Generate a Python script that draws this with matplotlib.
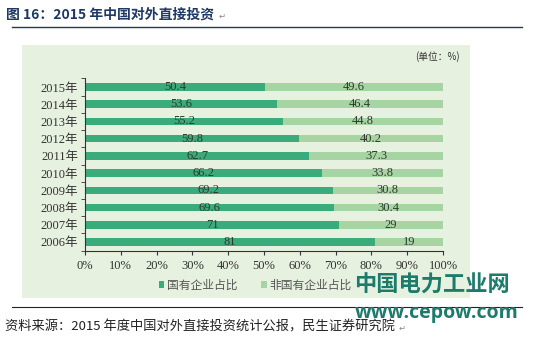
import matplotlib.pyplot as plt
from matplotlib.patches import Rectangle
from matplotlib.lines import Line2D

years = ["2006年", "2007年", "2008年", "2009年", "2010年",
         "2011年", "2012年", "2013年", "2014年", "2015年"]
state_share = [81, 71, 69.6, 69.2, 66.2, 62.7, 59.8, 55.2, 53.6, 50.4]
nonstate_share = [19, 29, 30.4, 30.8, 33.8, 37.3, 40.2, 44.8, 46.4, 49.6]
state_labels = ["81", "71", "69.6", "69.2", "66.2", "62.7", "59.8", "55.2", "53.6", "50.4"]
nonstate_labels = ["19", "29", "30.4", "30.8", "33.8", "37.3", "40.2", "44.8", "46.4", "49.6"]
xticks = [0, 10, 20, 30, 40, 50, 60, 70, 80, 90, 100]

serif = ["Liberation Serif", "Noto Sans CJK SC", "DejaVu Sans"]
sans = ["Noto Sans CJK SC", "DejaVu Sans"]

dark_green = "#3aab7b"
light_green = "#a6d4a2"

fig = plt.figure(figsize=(5.33, 3.42), dpi=100)

# panel background
fig.patches.append(Rectangle((22 / 533, 1 - 298 / 342), 448 / 533, 253 / 342,
                             transform=fig.transFigure, facecolor="#e7f1e0",
                             edgecolor="none", zorder=-5))

# header / footer rules
fig.add_artist(Line2D([12 / 533, 522 / 533], [1 - 27 / 342] * 2, color="#1f3864", lw=1))
fig.add_artist(Line2D([12 / 533, 522 / 533], [1 - 307 / 342] * 2, color="#222222", lw=0.8))

fig.text(6 / 533, 1 - 15 / 342, "图 16：2015 年中国对外直接投资", family=sans,
         fontsize=10, fontweight="bold", color="#1f3864", va="center")
fig.text(219 / 533, 1 - 16 / 342, "↵", family=["DejaVu Sans"], fontsize=6,
         color="#888888", va="center")

ax = fig.add_axes([85 / 533, 1 - 250.6 / 342, 358 / 533, 172.2 / 342])
ax.set_facecolor("none")
ax.set_zorder(2)

y = list(range(len(years)))
ax.barh(y, state_share, height=0.44, color=dark_green, label="国有企业占比")
ax.barh(y, nonstate_share, left=state_share, height=0.44, color=light_green,
        label="非国有企业占比")

for i in y:
    ax.text(state_share[i] / 2, i, state_labels[i], ha="center", va="center",
            fontsize=9, family=serif, color="#2f3a2f")
    ax.text(state_share[i] + nonstate_share[i] / 2, i, nonstate_labels[i],
            ha="center", va="center", fontsize=9, family=serif, color="#2f3a2f")

ax.set_xlim(0, 100)
ax.set_ylim(-0.5, 9.5)
ax.set_xticks(xticks)
ax.set_xticklabels([f"{t}%" for t in xticks], family=serif, fontsize=9,
                   color="#333333")
ax.set_yticks(y)
ax.set_yticklabels(years, family=serif, fontsize=9, color="#333333")
ax.set_yticks([v - 0.5 for v in range(len(years) + 1)], minor=True)
ax.tick_params(axis="y", which="major", length=0, pad=5)
ax.tick_params(axis="y", which="minor", length=3, color="#333333")
ax.tick_params(axis="x", length=3, color="#333333", pad=4)
for side in ["top", "right"]:
    ax.spines[side].set_visible(False)
for side in ["left", "bottom"]:
    ax.spines[side].set_color("#333333")
    ax.spines[side].set_linewidth(0.8)

fig.text(460 / 533, 1 - 57 / 342, "(单位：%)", family=sans, fontsize=7,
         color="#333333", ha="right", va="center")

leg = fig.legend(loc="center", bbox_to_anchor=(255 / 533, 1 - 285 / 342), ncol=2,
                 frameon=False, handlelength=0.5, handleheight=0.5, handletextpad=0.2,
                 columnspacing=2.0, prop={"family": sans, "size": 8.5})
for t in leg.get_texts():
    t.set_color("#555555")

# watermark
fig.text(432 / 533, 1 - 285 / 342, "中国电力工业网", family=sans, fontsize=16,
         fontweight="bold", color="#1d7b6b", ha="center", va="center")
fig.text(519 / 533, 1 - 313 / 342, "www.cepow.com", family=["Open Sans", "DejaVu Sans"],
         fontsize=14, fontweight="bold", color="#1d7b6b", ha="right", va="center")

fig.text(5 / 533, 1 - 327 / 342, "资料来源：2015 年度中国对外直接投资统计公报，民生证券研究院",
         family=sans, fontsize=9.5, color="#222222", va="center")
fig.text(399 / 533, 1 - 328 / 342, "↵", family=["DejaVu Sans"], fontsize=6,
         color="#888888", va="center")

fig.savefig("out.png", dpi=100)
